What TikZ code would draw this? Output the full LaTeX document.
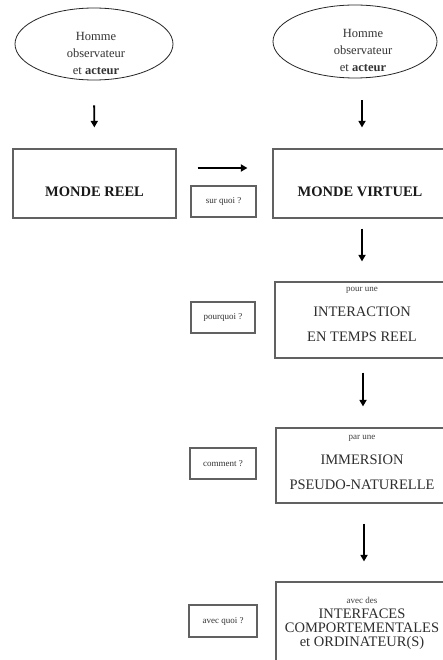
\documentclass[tikz,border=0pt]{standalone}
\usepackage{fontspec}
\setmainfont{Liberation Serif}
\usetikzlibrary{arrows.meta,shapes.geometric}
\begin{document}
\begin{tikzpicture}[x=1pt,y=-1pt,
  bubble/.style={draw=black!85, line width=0.8pt, ellipse, inner sep=0pt},
  frame/.style={draw=black!62, line width=1.2pt, inner sep=0pt, rectangle},
  tagbox/.style={draw=black!62, line width=1.2pt, inner sep=0pt, rectangle,
    font=\fontsize{9}{10}\selectfont, text=black!80},
  flow/.style={line width=1.9pt, -{Triangle[length=6.5pt,width=7pt]}},
  headtxt/.style={font=\bfseries\fontsize{14.5}{16}\selectfont, text=black!90, inner sep=0pt},
  bigtxt/.style={font=\fontsize{14.5}{15}\selectfont, text=black!82, inner sep=0pt},
  stacktxt/.style={font=\fontsize{14.5}{14}\selectfont, text=black!82, inner sep=0pt, align=center},
  smalltxt/.style={font=\fontsize{9}{10}\selectfont, text=black!75, inner sep=0pt},
  bubbletxt/.style={font=\fontsize{12.5}{17}\selectfont, text=black!80, align=center, inner sep=0pt}]
\useasboundingbox (0,0) rectangle (443,660);
\clip (0,0) rectangle (443,660);
\fill[white] (0,0) rectangle (443,660);

% observer / actor bubbles
\node[bubble, minimum width=158pt, minimum height=72pt] (obsL) at (94,44) {};
\node[bubbletxt] (obsLtxt) at (96,53) {Homme\\observateur\\et \textbf{acteur}};
\node[bubble, minimum width=164pt, minimum height=73pt] (obsR) at (355,41.5) {};
\node[bubbletxt] (obsRtxt) at (363,50) {Homme\\observateur\\et \textbf{acteur}};

% the two worlds
\node[frame, minimum width=163pt, minimum height=69pt] (reel) at (94.5,183.5) {};
\node[headtxt] (reeltxt) at (94.5,192) {MONDE REEL};
\node[frame, minimum width=176pt, minimum height=69pt] (virt) at (361,183.5) {};
\node[headtxt] (virttxt) at (360,192) {MONDE VIRTUEL};

% chain of purposes
\node[frame, minimum width=174pt, minimum height=76pt] (inter) at (362,320) {};
\node[smalltxt] (interA) at (362,290) {pour une};
\node[bigtxt] (interB) at (362,312) {INTERACTION};
\node[bigtxt] (interC) at (362,337) {EN TEMPS REEL};

\node[frame, minimum width=173pt, minimum height=75pt] (immer) at (362.5,465.5) {};
\node[smalltxt] (immerA) at (362,438) {par une};
\node[bigtxt] (immerB) at (362,460) {IMMERSION};
\node[bigtxt] (immerC) at (362,485) {PSEUDO-NATURELLE};

\node[frame, minimum width=173pt, minimum height=98pt] (iface) at (362.5,631) {};
\node[smalltxt] (ifaceA) at (362,600) {avec des};
\node[stacktxt] (ifaceB) at (362,629) {INTERFACES\\COMPORTEMENTALES\\et ORDINATEUR(S)};

% question tags
\node[tagbox, minimum width=65pt, minimum height=31pt] (qsur) at (223.5,201.5) {sur quoi ?};
\node[tagbox, minimum width=64pt, minimum height=31pt] (qpour) at (223,317.5) {pourquoi ?};
\node[tagbox, minimum width=66pt, minimum height=31pt] (qcomm) at (223,463.5) {comment ?};
\node[tagbox, minimum width=68pt, minimum height=32pt] (qavec) at (223,621) {avec quoi ?};

% arrows
\draw[flow, shorten <=25pt, shorten >=21pt] (obsL.south) -- (reel.north);
\draw[flow, shorten <=22pt, shorten >=21pt] ([xshift=7pt]obsR.south) -- ([xshift=1pt]virt.north);
\draw[flow, shorten <=21pt, shorten >=25pt] ([yshift=15.5pt]reel.east) -- ([yshift=15.5pt]virt.west);
\draw[flow, shorten <=10pt, shorten >=20pt] ([xshift=1pt]virt.south) -- (inter.north);
\draw[flow, shorten <=14pt, shorten >=21pt] ([xshift=1pt]inter.south) -- ([xshift=0.5pt]immer.north);
\draw[flow, shorten <=20pt, shorten >=20pt] ([xshift=1.5pt]immer.south) -- ([xshift=1.5pt,yshift=0pt]iface.north);
\end{tikzpicture}
\end{document}
